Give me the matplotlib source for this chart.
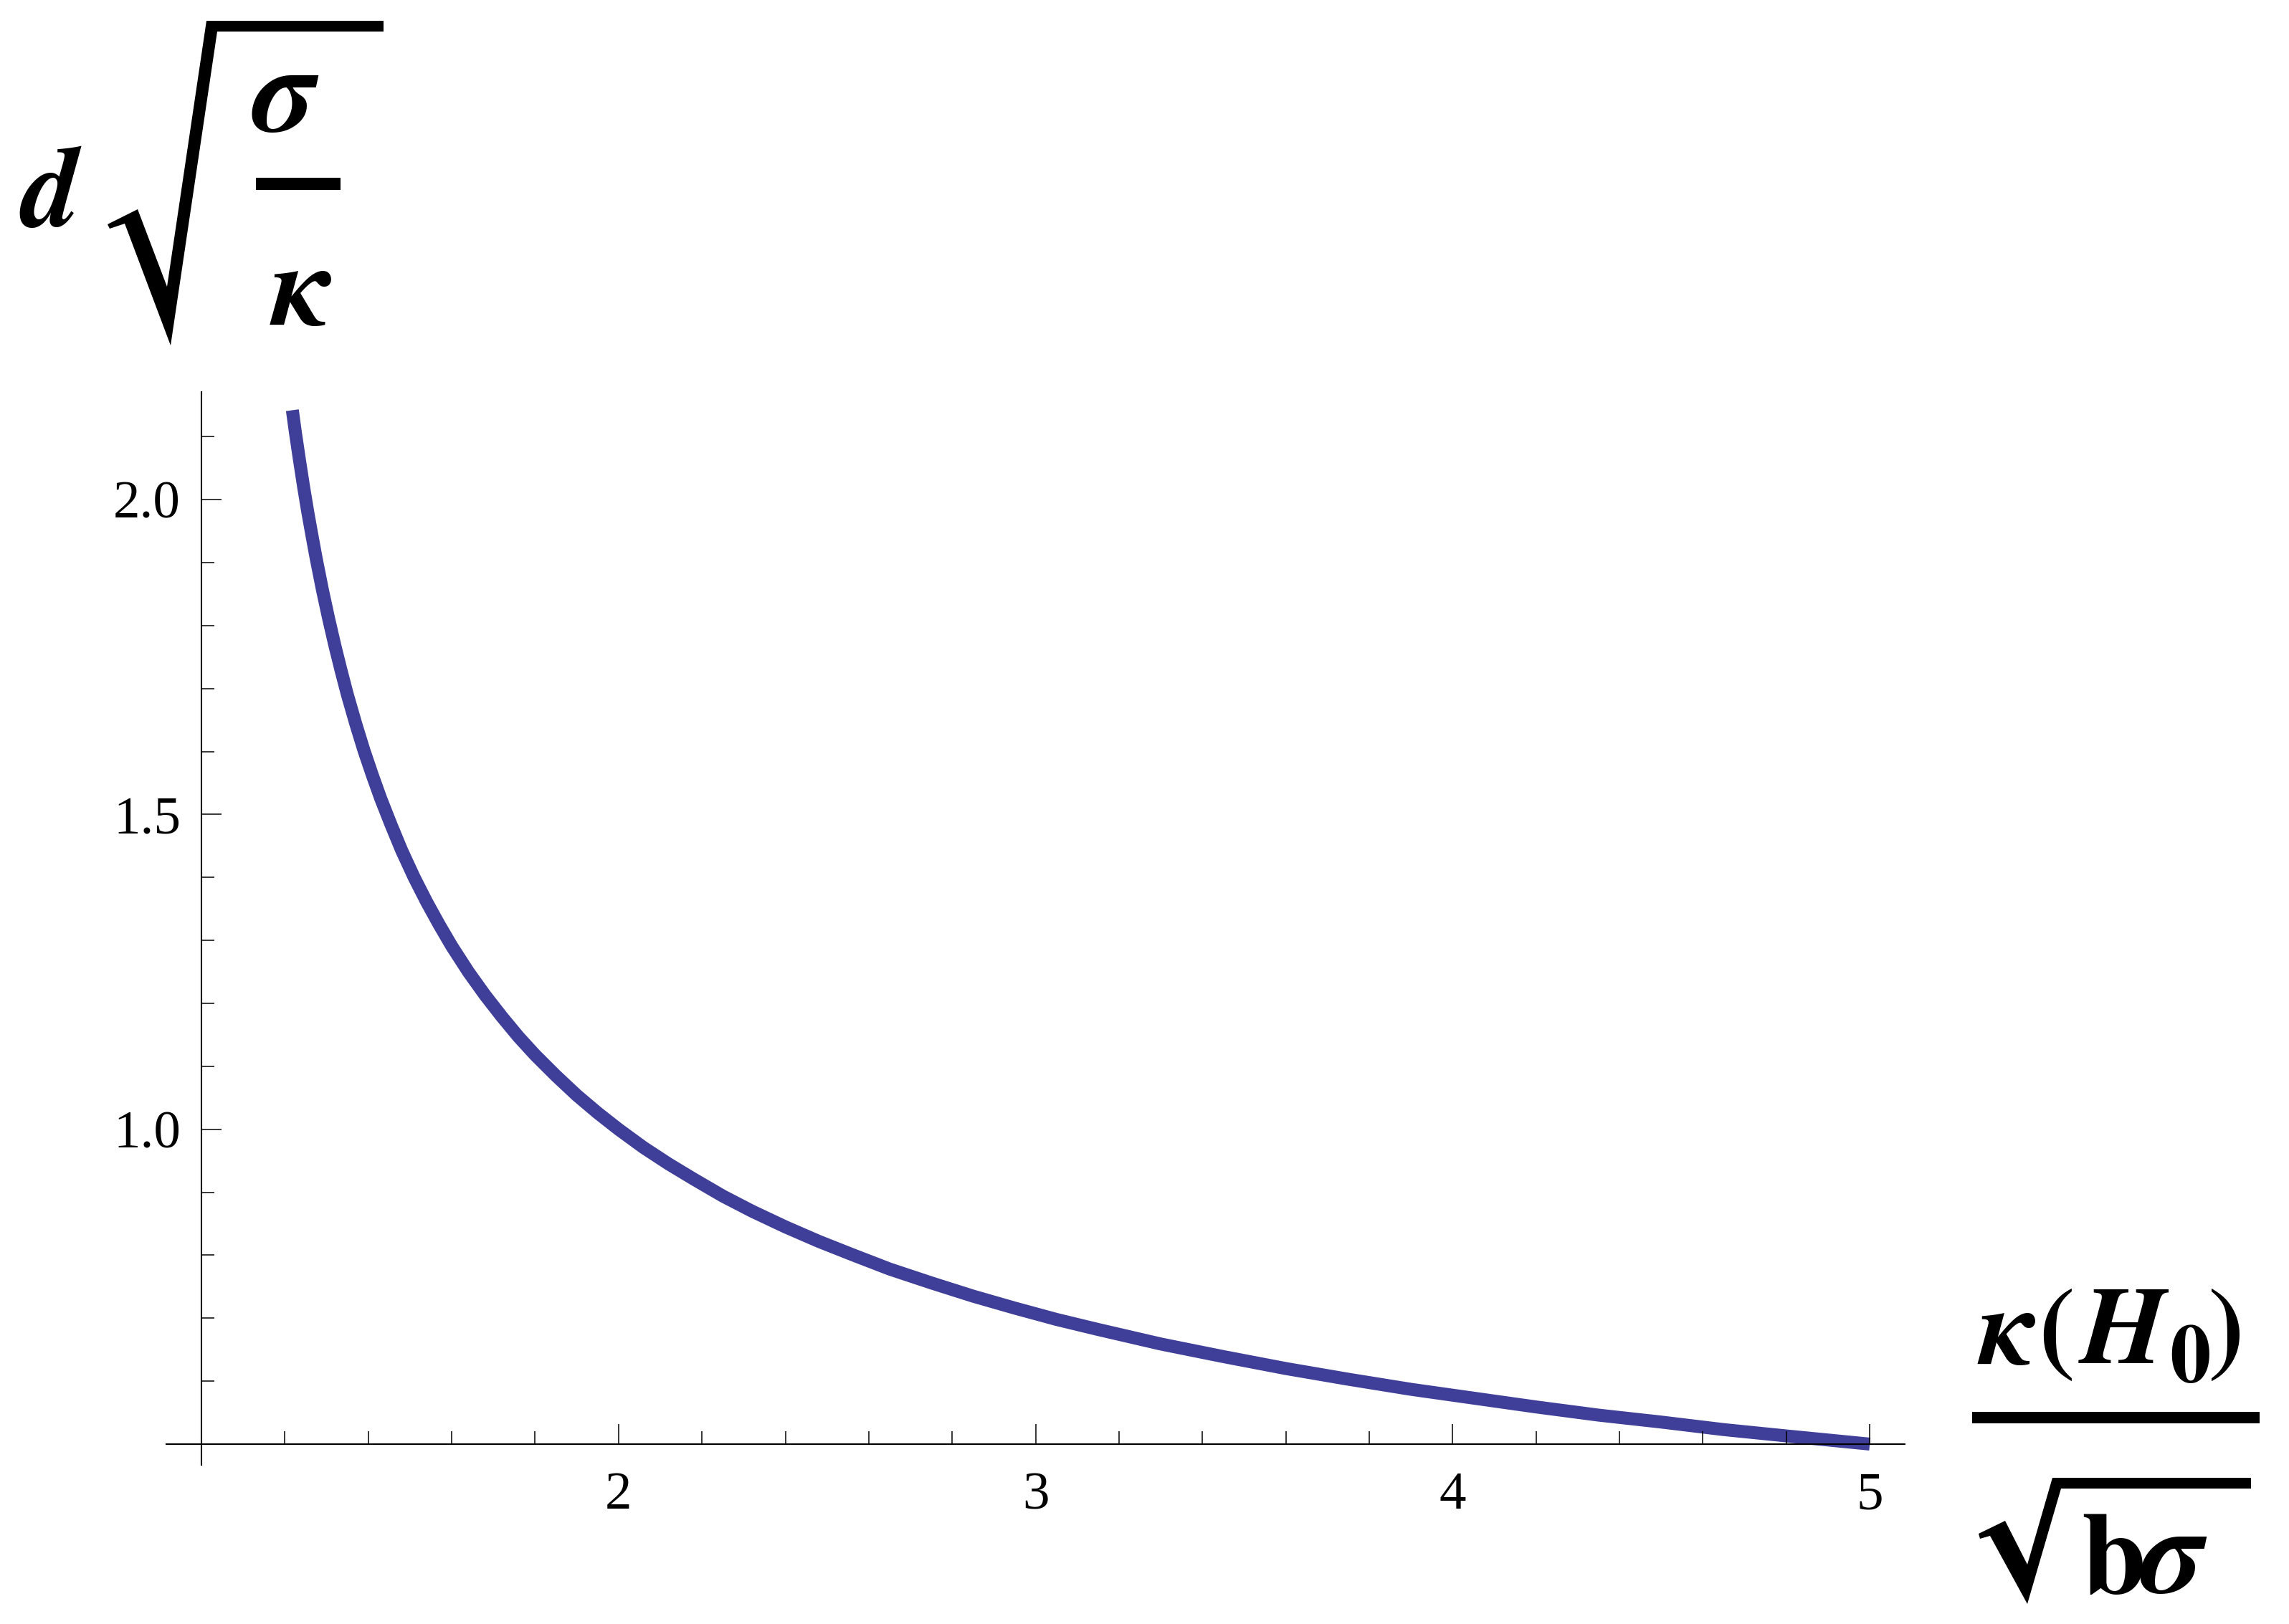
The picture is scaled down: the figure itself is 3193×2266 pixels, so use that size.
import numpy as np
import matplotlib.pyplot as plt
from matplotlib.patches import Polygon

# values
x_vals = [1.218, 1.225, 1.235, 1.245, 1.255, 1.265, 1.275, 1.29, 1.305, 1.32,
          1.335, 1.35, 1.37, 1.39, 1.41, 1.43, 1.455, 1.48, 1.51, 1.54,
          1.57, 1.60, 1.64, 1.68, 1.72, 1.76, 1.80, 1.85, 1.90, 1.95,
          2.00, 2.06, 2.12, 2.18, 2.25, 2.32, 2.40, 2.48, 2.56, 2.65,
          2.75, 2.85, 2.95, 3.05, 3.15, 3.30, 3.45, 3.60, 3.75, 3.90,
          4.05, 4.20, 4.35, 4.50, 4.65, 4.80, 5.00]
y_vals = [2.142, 2.108, 2.063, 2.020, 1.980, 1.943, 1.907, 1.857, 1.811, 1.768,
          1.728, 1.690, 1.644, 1.601, 1.562, 1.525, 1.483, 1.443, 1.400, 1.361,
          1.325, 1.291, 1.250, 1.213, 1.179, 1.147, 1.118, 1.085, 1.054, 1.026,
          1.000, 0.971, 0.945, 0.921, 0.894, 0.870, 0.845, 0.822, 0.801, 0.778,
          0.756, 0.735, 0.716, 0.698, 0.682, 0.659, 0.639, 0.620, 0.603, 0.587,
          0.573, 0.559, 0.546, 0.535, 0.523, 0.513, 0.500]

x_major = [2, 3, 4, 5]
x_minor = [1.2, 1.4, 1.6, 1.8, 2.2, 2.4, 2.6, 2.8, 3.2, 3.4, 3.6, 3.8,
           4.2, 4.4, 4.6, 4.8]
y_major = [1.0, 1.5, 2.0]
y_minor = [0.6, 0.7, 0.8, 0.9, 1.1, 1.2, 1.3, 1.4, 1.6, 1.7, 1.8, 1.9, 2.1]
x_labels = ['2', '3', '4', '5']
y_labels = ['1.0', '1.5', '2.0']

W, H = 3193, 2266
SERIF = 'Liberation Serif'
MATH = 'STIXGeneral'


def fp(x, y):
    # pixel position (from top-left) -> figure fraction
    return (x / W, 1 - y / H)


def shape(fig, pts):
    fig.patches.append(Polygon([fp(x, y) for x, y in pts], closed=True,
                               transform=fig.transFigure, facecolor='black',
                               edgecolor='none'))


def glyph(fig, x, y, s, size, italic=True):
    fig.text(*fp(x, y), s, fontsize=size, family=MATH, fontweight='bold',
             fontstyle='italic' if italic else 'normal',
             ha='left', va='baseline')


fig = plt.figure(figsize=(W / 100, H / 100), dpi=100)
ax = fig.add_axes([0.07266, 0.09775, 0.7595, 0.6609])

ax.plot(x_vals, y_vals, color='#3f3f99', lw=13, solid_capstyle='butt',
        solid_joinstyle='round')

ax.set_xlim(0.9158, 5.084)
ax.set_ylim(0.4664, 2.171)
ax.spines['left'].set_position(('data', 1.0))
ax.spines['bottom'].set_position(('data', 0.5))
ax.spines['top'].set_visible(False)
ax.spines['right'].set_visible(False)
for sp in ('left', 'bottom'):
    ax.spines[sp].set_linewidth(1.5)
ax.set_axisbelow(False)

ax.set_xticks(x_major)
ax.set_xticklabels(x_labels)
ax.set_xticks(x_minor, minor=True)
ax.set_yticks(y_major)
ax.set_yticklabels(y_labels)
ax.set_yticks(y_minor, minor=True)
ax.tick_params(axis='x', which='major', direction='in', length=20, width=1.1,
               pad=28, labelsize=54)
ax.tick_params(axis='y', which='major', direction='in', length=20, width=1.1,
               pad=21, labelsize=54)
ax.tick_params(which='minor', direction='in', length=13, width=1.1)
for lab in ax.get_xticklabels() + ax.get_yticklabels():
    lab.set_family(SERIF)

# y label: d sqrt(sigma / kappa)
glyph(fig, 30, 315, 'd', 115)
shape(fig, [(150, 313), (192, 292), (233, 400), (288, 29), (535, 29), (535, 44),
            (303, 44), (238, 482), (174, 312), (153, 319)])
glyph(fig, 352, 183, 'σ', 124)
shape(fig, [(357, 248), (475, 248), (475, 265), (357, 265)])
glyph(fig, 380, 453, 'κ', 117)

# x label: kappa(H0) / sqrt(b sigma)
glyph(fig, 2762, 1903, 'κ', 110)
glyph(fig, 2843, 1902, '(', 108, italic=False)
glyph(fig, 2903, 1902, 'H', 110)
glyph(fig, 3026, 1928, '0', 83, italic=False)
glyph(fig, 3081, 1902, ')', 108, italic=False)
shape(fig, [(2751, 1970), (3152, 1970), (3152, 1986), (2751, 1986)])
shape(fig, [(2760, 2140), (2797, 2122), (2828, 2183), (2863, 2062), (3140, 2062),
            (3140, 2077), (2875, 2077), (2828, 2238), (2776, 2143), (2762, 2147)])
glyph(fig, 2903, 2223, 'b', 117, italic=False)
glyph(fig, 2986, 2222, 'σ', 124)

fig.savefig('out.png', dpi=100)
